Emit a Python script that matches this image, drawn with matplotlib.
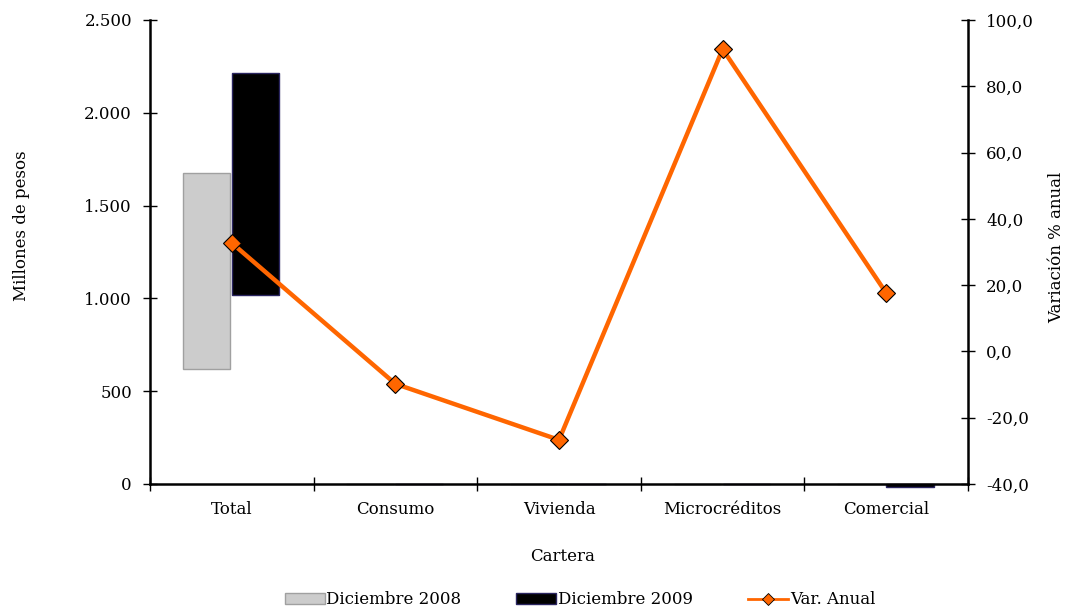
import matplotlib.pyplot as plt
import numpy as np
from matplotlib.lines import Line2D
from matplotlib.patches import Patch
from matplotlib.ticker import FuncFormatter

plt.rcParams['font.family'] = ['DejaVu Serif']

categorias = ['Total', 'Consumo', 'Vivienda', 'Microcréditos', 'Comercial']
# barras flotantes tal como aparecen (base y alto, millones de pesos)
dic2008_base = [620, 0, 0, 0, 0]
dic2008_alto = [1056, 0, 0, 0, 0]
dic2009_base = [1018, 0, 0, 0, 0]
dic2009_alto = [1196, 0, 0, 0, -14]
var_anual = [32.7, -9.8, -26.7, 91.2, 17.6]

fig = plt.figure(figsize=(10.7, 6.09), dpi=100)
ax = fig.add_axes([0.1402, 0.2053, 0.7645, 0.7619])
ax2 = ax.twinx()

x = np.arange(len(categorias))
w = 0.29
ax.bar(x - 0.155, dic2008_alto, w, bottom=dic2008_base, color='#cccccc',
       edgecolor='#a0a0a0', linewidth=1, clip_on=False)
ax.bar(x + 0.145, dic2009_alto, w, bottom=dic2009_base, color='black',
       edgecolor='#2a2560', linewidth=1, clip_on=False)

ax2.plot(x, var_anual, color='#ff6600', lw=3.2, marker='D', ms=9.5,
         mfc='#ff6600', mec='black', mew=0.8, zorder=5)

ax.set_xlim(-0.5, len(categorias) - 0.5)
ax.set_ylim(0, 2500)
ax.set_yticks(range(0, 2501, 500))
ax.yaxis.set_major_formatter(FuncFormatter(lambda v, p: f'{int(v):,}'.replace(',', '.')))
ax2.set_ylim(-40, 100)
ax2.set_yticks(range(-40, 101, 20))
ax2.yaxis.set_major_formatter(FuncFormatter(lambda v, p: f'{v:.1f}'.replace('.', ',')))

ax.set_xticks(np.arange(-0.5, len(categorias), 1))
ax.set_xticklabels([])
ax.set_xticks(x, minor=True)
ax.set_xticklabels(categorias, minor=True)
ax.tick_params(axis='x', which='major', direction='inout', length=10, width=1)
ax.tick_params(axis='x', which='minor', length=0, pad=12, labelsize=12)
ax.tick_params(axis='y', direction='inout', length=10, width=1, labelsize=12, pad=8)
ax2.tick_params(axis='y', direction='inout', length=10, width=1, labelsize=12, pad=8)

for a in (ax, ax2):
    a.spines['top'].set_visible(False)
    for s in ('left', 'right', 'bottom'):
        a.spines[s].set_linewidth(1.8)
ax.spines['right'].set_visible(False)
ax2.spines['left'].set_visible(False)
ax2.spines['bottom'].set_visible(False)

ax.set_ylabel('Millones de pesos', fontsize=12)
ax2.set_ylabel('Variación % anual', fontsize=12)
ax.set_xlabel('Cartera', fontsize=12)
ax.yaxis.set_label_coords(-0.157, 0.556)
ax2.yaxis.set_label_coords(1.108, 0.509)
ax.xaxis.set_label_coords(0.504, -0.157)
for lab in (ax.yaxis.label, ax2.yaxis.label, ax.xaxis.label):
    lab.set(rotation_mode='default', ha='center', va='center')

handles = [Patch(facecolor='#cccccc', edgecolor='#a0a0a0'),
           Patch(facecolor='black', edgecolor='#2a2560'),
           Line2D([], [], color='#ff6600', lw=2, marker='D', ms=6,
                  mfc='#ff6600', mec='black', mew=0.6)]
fig.legend(handles, ['Diciembre 2008', 'Diciembre 2009', 'Var. Anual'],
           loc='center', bbox_to_anchor=(0.542, 0.015), ncol=3, frameon=False,
           fontsize=12, handlelength=2.4, handletextpad=0.1, columnspacing=3.3)

fig.savefig('out.png', dpi=100)
